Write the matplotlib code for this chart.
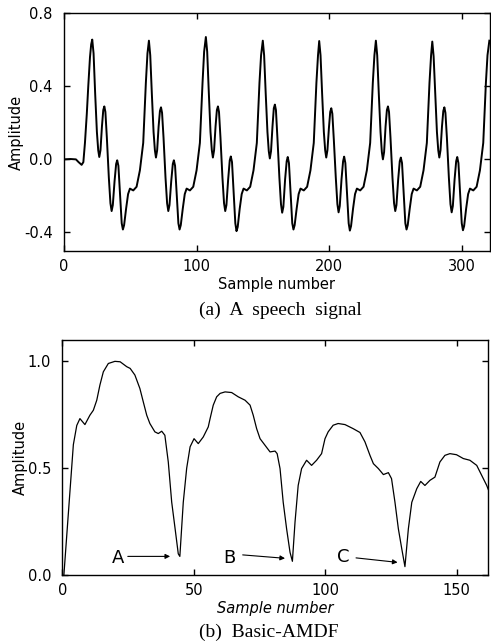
import numpy as np
import matplotlib
matplotlib.use("Agg")
import matplotlib.pyplot as plt
from matplotlib.ticker import FormatStrFormatter

plt.rcParams['font.family'] = ['DejaVu Sans']
plt.rcParams['axes.unicode_minus'] = False

# (a) speech signal (sample, amplitude)
speech_x = [
    0, 5, 9, 11, 13.3, 14.6, 15.8, 17.2, 18.3, 19.6, 20.5,
    21.3, 22.3, 23.5, 24.8, 25.8, 26.6, 27.5, 28.6, 29.6, 30.4, 31.2, 32.3, 33.8, 35.0, 35.9, 36.8,
    38.1, 39.3, 40.1, 41.0, 42.3, 43.5, 44.4, 45.3, 46.8, 48.3, 49.7, 52.2, 54.7, 57.2, 59.7, 61.7, 62.9,
    64.0, 65.0, 66.2, 67.5, 68.5, 69.3, 70.2, 71.3, 72.3, 73.1, 73.9, 75.0, 76.5, 77.7, 78.6, 79.5,
    80.8, 82.0, 82.8, 83.7, 85.0, 86.2, 87.1, 88.0, 89.5, 91.0, 92.4, 94.9, 97.4, 99.9, 102.4, 104.4, 105.6,
    106.9, 107.9, 109.1, 110.4, 111.4, 112.2, 113.1, 114.2, 115.2, 116.0, 116.8, 117.9, 119.4, 120.6, 121.5, 122.4,
    123.7, 124.9, 125.7, 126.6, 127.9, 129.1, 130.0, 130.9, 132.4, 133.9, 135.3, 137.8, 140.3, 142.8, 145.3, 147.3, 148.5,
    149.8, 150.8, 152.0, 153.3, 154.3, 155.1, 156.0, 157.1, 158.1, 158.9, 159.7, 160.8, 162.3, 163.5, 164.4, 165.3,
    166.6, 167.8, 168.6, 169.5, 170.8, 172.0, 172.9, 173.8, 175.3, 176.8, 178.2, 180.7, 183.2, 185.7, 188.2, 190.2, 191.4,
    192.3, 193.3, 194.5, 195.8, 196.8, 197.6, 198.5, 199.6, 200.6, 201.4, 202.2, 203.3, 204.8, 206.0, 206.9, 207.8,
    209.1, 210.3, 211.1, 212.0, 213.3, 214.5, 215.4, 216.3, 217.8, 219.3, 220.7, 223.2, 225.7, 228.2, 230.7, 232.7, 233.9,
    235.0, 236.0, 237.2, 238.5, 239.5, 240.3, 241.2, 242.3, 243.3, 244.1, 244.9, 246.0, 247.5, 248.7, 249.6, 250.5,
    251.8, 253.0, 253.8, 254.7, 256.0, 257.2, 258.1, 259.0, 260.5, 262.0, 263.4, 265.9, 268.4, 270.9, 273.4, 275.4, 276.6,
    277.5, 278.5, 279.7, 281.0, 282.0, 282.8, 283.7, 284.8, 285.8, 286.6, 287.4, 288.5, 290.0, 291.2, 292.1, 293.0,
    294.3, 295.5, 296.3, 297.2, 298.5, 299.7, 300.6, 301.5, 303.0, 304.5, 305.9, 308.4, 310.9, 313.4, 315.9, 317.9, 319.1,
    320.5,
]
speech_y = [
    0.0, 0.002, 0.0, -0.015, -0.03, -0.015, 0.09, 0.25, 0.40, 0.56, 0.63,
    0.656, 0.58, 0.36, 0.15, 0.05, 0.013, 0.05, 0.18, 0.27, 0.29, 0.26, 0.12, -0.10, -0.24, -0.283, -0.25,
    -0.12, -0.025, -0.005, -0.035, -0.20, -0.35, -0.384, -0.36, -0.27, -0.19, -0.16, -0.17, -0.15, -0.06, 0.09, 0.42, 0.58,
    0.65, 0.57, 0.36, 0.15, 0.05, 0.01, 0.05, 0.18, 0.265, 0.285, 0.255, 0.12, -0.10, -0.24, -0.283, -0.25,
    -0.12, -0.025, -0.005, -0.035, -0.20, -0.35, -0.384, -0.36, -0.27, -0.19, -0.16, -0.17, -0.15, -0.06, 0.09, 0.42, 0.59,
    0.67, 0.59, 0.37, 0.15, 0.05, 0.01, 0.05, 0.18, 0.27, 0.29, 0.26, 0.12, -0.10, -0.24, -0.283, -0.25,
    -0.11, -0.005, 0.016, -0.015, -0.19, -0.35, -0.393, -0.37, -0.27, -0.19, -0.16, -0.17, -0.15, -0.06, 0.09, 0.42, 0.57,
    0.65, 0.57, 0.36, 0.15, 0.045, 0.005, 0.045, 0.18, 0.28, 0.30, 0.27, 0.12, -0.10, -0.245, -0.292, -0.26,
    -0.11, -0.01, 0.013, -0.02, -0.19, -0.35, -0.384, -0.36, -0.27, -0.19, -0.16, -0.17, -0.15, -0.06, 0.09, 0.42, 0.57,
    0.648, 0.57, 0.36, 0.15, 0.05, 0.01, 0.05, 0.17, 0.26, 0.28, 0.25, 0.11, -0.10, -0.245, -0.29, -0.255,
    -0.11, -0.01, 0.015, -0.02, -0.19, -0.35, -0.39, -0.365, -0.27, -0.19, -0.16, -0.17, -0.15, -0.06, 0.09, 0.42, 0.57,
    0.65, 0.57, 0.36, 0.15, 0.04, 0.0, 0.04, 0.18, 0.27, 0.29, 0.26, 0.12, -0.10, -0.24, -0.283, -0.25,
    -0.11, -0.01, 0.01, -0.02, -0.19, -0.35, -0.384, -0.36, -0.27, -0.19, -0.16, -0.17, -0.15, -0.06, 0.09, 0.42, 0.57,
    0.645, 0.565, 0.36, 0.15, 0.05, 0.01, 0.05, 0.18, 0.265, 0.285, 0.255, 0.12, -0.10, -0.245, -0.29, -0.255,
    -0.11, -0.01, 0.013, -0.02, -0.19, -0.35, -0.388, -0.365, -0.27, -0.19, -0.16, -0.17, -0.15, -0.06, 0.09, 0.42, 0.57,
    0.65,
]

# (b) basic AMDF (lag, normalised amplitude)
amdf_x = [
    0.6, 2.9, 4.2, 5.5, 6.7, 8.6, 10.5, 11.8, 13.1, 14.3, 15.6, 17.5, 20.0, 22.0, 24.5, 25.8, 27.6, 29.5,
    30.8, 32.1, 33.3, 35.2, 36.5, 37.8, 39.0, 40.3, 41.6, 42.9, 44.1, 44.7, 46.0, 47.3, 48.6, 50.1, 51.7,
    53.6, 55.5, 56.2, 57.4, 58.7, 60.0, 61.9, 64.4, 66.9, 69.5, 71.4, 72.6, 73.9, 75.2, 77.1, 79.0, 80.9,
    81.7, 82.8, 84.0, 85.3, 86.6, 87.5, 88.5, 89.7, 91.0, 92.9, 94.8, 96.7, 98.6, 99.9, 101.1, 103.0, 104.9,
    107.5, 110.6, 113.2, 115.1, 117.0, 118.3, 120.2, 122.1, 124.0, 125.2, 126.5, 127.8, 129.1, 130.3, 131.6,
    132.9, 134.8, 136.3, 137.9, 139.8, 141.7, 143.6, 145.5, 147.4, 149.9, 152.5, 155.0, 157.6, 159.5, 161.4, 162,
]
amdf_y = [
    0.0, 0.39, 0.61, 0.70, 0.732, 0.704, 0.748, 0.771, 0.818, 0.889, 0.951, 0.99, 1.0, 0.998, 0.975, 0.967, 0.936, 0.873,
    0.81, 0.748, 0.709, 0.67, 0.662, 0.673, 0.654, 0.529, 0.341, 0.216, 0.099, 0.087, 0.34, 0.50, 0.60, 0.638, 0.615,
    0.646, 0.693, 0.732, 0.795, 0.834, 0.85, 0.857, 0.854, 0.834, 0.818, 0.795, 0.748, 0.685, 0.638, 0.607, 0.576, 0.58,
    0.568, 0.498, 0.341, 0.216, 0.106, 0.064, 0.248, 0.419, 0.498, 0.537, 0.513, 0.537, 0.568, 0.638, 0.67, 0.701, 0.709,
    0.704, 0.685, 0.667, 0.623, 0.56, 0.521, 0.498, 0.47, 0.479, 0.451, 0.341, 0.216, 0.122, 0.039, 0.216,
    0.34, 0.404, 0.438, 0.419, 0.443, 0.458, 0.529, 0.56, 0.568, 0.563, 0.545, 0.537, 0.513, 0.466, 0.419, 0.40,
]

# minima labels: text position and arrow start/end
min_labels = ["A", "B", "C"]
label_xy = [(21.3, 0.08), (63.5, 0.08), (106.9, 0.083)]
arrow_from = [(24.9, 0.087), (68.6, 0.094), (111.7, 0.08)]
arrow_to = [(41.0, 0.087), (84.7, 0.078), (127.5, 0.059)]

fig = plt.figure(figsize=(4.91, 6.41), dpi=100)
ax1 = fig.add_axes([0.1303, 0.6089, 0.8677, 0.3704])
ax2 = fig.add_axes([0.1269, 0.1030, 0.8676, 0.3666])

ax1.plot(speech_x, speech_y, color='black', lw=1.4)
ax1.set_xlim(0, 321)
ax1.set_ylim(-0.5, 0.8)
ax1.set_xticks([0, 100, 200, 300])
ax1.set_yticks([-0.4, 0.0, 0.4, 0.8])
ax1.yaxis.set_major_formatter(FormatStrFormatter('%.1f'))
ax1.set_xlabel("Sample number", fontsize=10.5, labelpad=2)
ax1.set_ylabel("Amplitude", fontsize=10.5, labelpad=0)

ax2.plot(amdf_x, amdf_y, color='black', lw=0.9)
ax2.set_xlim(0, 162)
ax2.set_ylim(0, 1.1)
ax2.set_xticks([0, 50, 100, 150])
ax2.set_yticks([0.0, 0.5, 1.0])
ax2.yaxis.set_major_formatter(FormatStrFormatter('%.1f'))
ax2.set_xlabel("Sample number", fontsize=10.5, style='italic', labelpad=2)
ax2.set_ylabel("Amplitude", fontsize=10.5, labelpad=0)

for lab, txy, a0, a1 in zip(min_labels, label_xy, arrow_from, arrow_to):
    ax2.text(txy[0], txy[1], lab, fontsize=13, ha='center', va='center')
    ax2.annotate("", xy=a1, xytext=a0,
                 arrowprops=dict(arrowstyle='-|>', color='black', lw=0.8,
                                 mutation_scale=7, shrinkA=0, shrinkB=0))

for ax in (ax1, ax2):
    ax.tick_params(direction='in', length=4, width=1, top=True, right=True,
                   labelsize=10.5, pad=6)
    ax.tick_params(axis='y', pad=8)
    for s in ax.spines.values():
        s.set_linewidth(1.0)

fig.text(0.572, 1 - 310 / 641, "(a)  A  speech  signal", ha='center', va='center',
         fontsize=14, family=['Liberation Serif', 'DejaVu Serif'])
fig.text(0.548, 1 - 632 / 641, "(b)  Basic-AMDF", ha='center', va='center',
         fontsize=14, family=['Liberation Serif', 'DejaVu Serif'])

fig.savefig("out.png", dpi=100)
